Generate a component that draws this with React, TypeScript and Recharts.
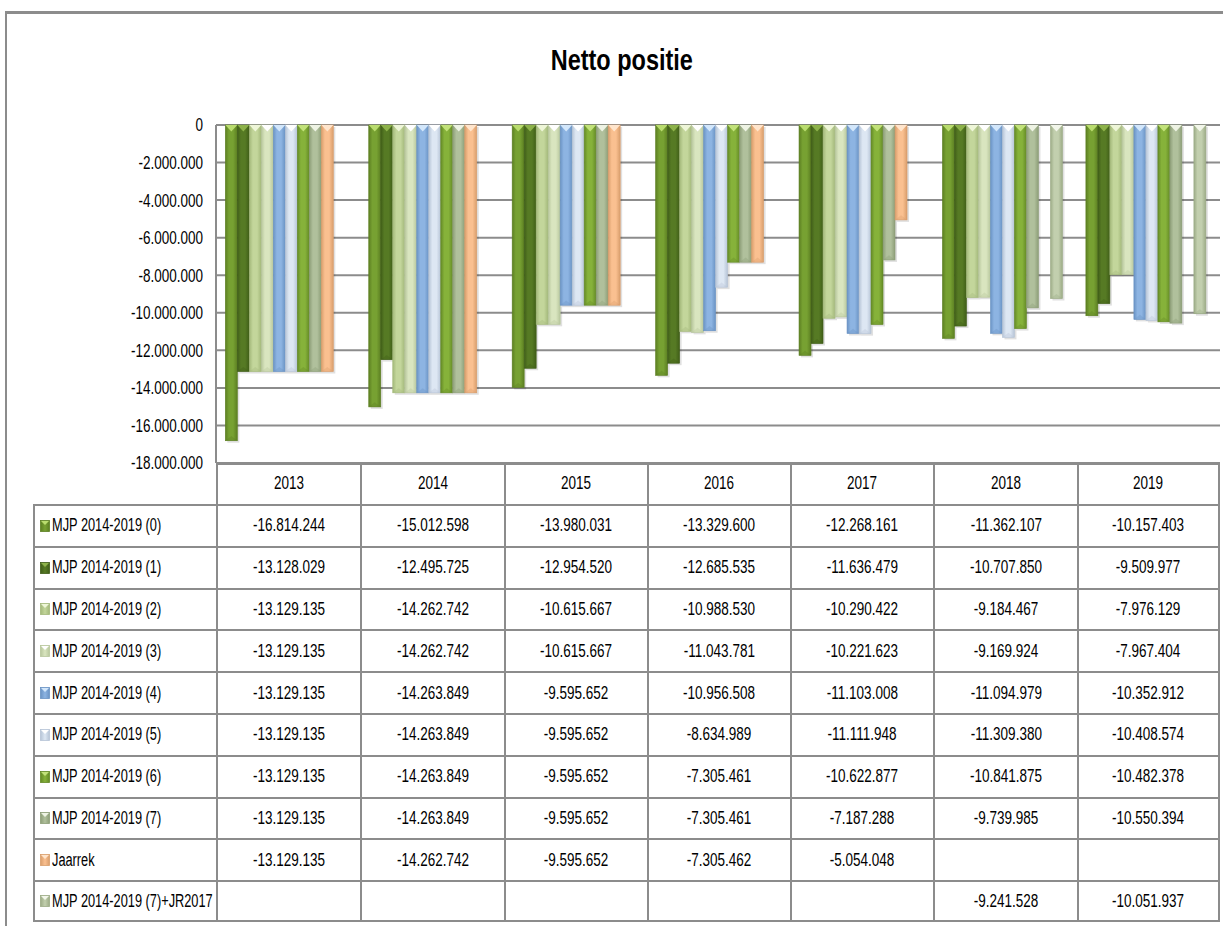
import React from "react"
import { BarChart, Bar, YAxis, XAxis, CartesianGrid } from "recharts"

const categories = ["2013", "2014", "2015", "2016", "2017", "2018", "2019"]

const mjp0 = [-16814244, -15012598, -13980031, -13329600, -12268161, -11362107, -10157403]
const mjp1 = [-13128029, -12495725, -12954520, -12685535, -11636479, -10707850, -9509977]
const mjp2 = [-13129135, -14262742, -10615667, -10988530, -10290422, -9184467, -7976129]
const mjp3 = [-13129135, -14262742, -10615667, -11043781, -10221623, -9169924, -7967404]
const mjp4 = [-13129135, -14263849, -9595652, -10956508, -11103008, -11094979, -10352912]
const mjp5 = [-13129135, -14263849, -9595652, -8634989, -11111948, -11309380, -10408574]
const mjp6 = [-13129135, -14263849, -9595652, -7305461, -10622877, -10841875, -10482378]
const mjp7 = [-13129135, -14263849, -9595652, -7305461, -7187288, -9739985, -10550394]
const jaarrek = [-13129135, -14262742, -9595652, -7305462, -5054048, null, null]
const mjp7jr = [null, null, null, null, null, -9241528, -10051937]

const seriesNames = [
  "MJP 2014-2019 (0)",
  "MJP 2014-2019 (1)",
  "MJP 2014-2019 (2)",
  "MJP 2014-2019 (3)",
  "MJP 2014-2019 (4)",
  "MJP 2014-2019 (5)",
  "MJP 2014-2019 (6)",
  "MJP 2014-2019 (7)",
  "Jaarrek",
  "MJP 2014-2019 (7)+JR2017",
]
const seriesValues = [mjp0, mjp1, mjp2, mjp3, mjp4, mjp5, mjp6, mjp7, jaarrek, mjp7jr]

const yTicks = [0, -2000000, -4000000, -6000000, -8000000, -10000000, -12000000, -14000000, -16000000, -18000000]

// base / highlight / edge colours per series
const palette = [
  { base: "#77A132", light: "#B9DC6E", dark: "#5C7F22" },
  { base: "#567A24", light: "#8DB24A", dark: "#405E18" },
  { base: "#C3D69B", light: "#EEF6D8", dark: "#A3B87A" },
  { base: "#D9E5BF", light: "#FFFFFF", dark: "#B7C69C" },
  { base: "#8DB4E2", light: "#D3E7FB", dark: "#6A93C4" },
  { base: "#DDE7F3", light: "#FFFFFF", dark: "#B6C4D6" },
  { base: "#86B23A", light: "#C2E27A", dark: "#648A26" },
  { base: "#B0C09C", light: "#EEF3E4", dark: "#8D9E78" },
  { base: "#FAC090", light: "#FFE5CC", dark: "#D99E6C" },
  { base: "#C2CFAE", light: "#F2F6EA", dark: "#9CAB86" },
]

// the original uses a very narrow face, so a regular sans is squeezed horizontally
const FONT = '"Liberation Sans", Arial, sans-serif'
const SQUEEZE = 0.75
const GRID = "#8c8c8c"

const data = categories.map((year, i) => {
  const row: Record<string, any> = { year }
  seriesValues.forEach((vals, s) => {
    row["s" + s] = vals[i]
  })
  return row
})

function fmt(v: number | null) {
  if (v === null || v === undefined) return ""
  const neg = v < 0
  const digits = Math.abs(Math.round(v)).toString()
  const withDots = digits.replace(/\B(?=(\d{3})+(?!\d))/g, ".")
  return (neg ? "-" : "") + withDots
}

function Narrow({ children, origin = "center", k = SQUEEZE }: { children: React.ReactNode; origin?: string; k?: number }) {
  return (
    <span style={{ display: "inline-block", transform: `scaleX(${k})`, transformOrigin: origin, whiteSpace: "nowrap" }}>
      {children}
    </span>
  )
}

function YTick(props: any) {
  const { x, y, payload } = props
  return (
    <text
      transform={`translate(${x},${y}) scale(${SQUEEZE},1)`}
      textAnchor="end"
      dy="0.36em"
      fontSize={18}
      fontFamily={FONT}
      fill="#000"
    >
      {fmt(payload.value)}
    </text>
  )
}

function BevelBar(props: any) {
  const { x, y, width, height, s } = props
  if (!height || !width) return null
  const top = height < 0 ? y + height : y
  const h = Math.abs(height)
  const c = palette[s]
  const tri = Math.min(width * 0.55, h)
  return (
    <g>
      <rect x={x + 2} y={top + 2} width={width} height={h} fill="rgba(0,0,0,0.12)" />
      <rect x={x} y={top} width={width} height={h} fill={`url(#grad${s})`} stroke={c.dark} strokeWidth={0.6} />
      <polygon points={`${x},${top} ${x + width},${top} ${x + width / 2},${top + tri}`} fill={c.light} />
      <polygon
        points={`${x},${top + h} ${x + width},${top + h} ${x + width / 2},${top + h - tri * 0.7}`}
        fill={c.dark}
        opacity={0.35}
      />
    </g>
  )
}

export default function App() {
  const colX = [216, 360, 504, 647, 790, 933, 1077, 1220]
  const rowH = 41.8
  const tableTop = 463
  const bodyTop = 504

  const cellBase: React.CSSProperties = {
    position: "absolute",
    boxSizing: "border-box",
    display: "flex",
    alignItems: "center",
    fontSize: 18,
  }

  return (
    <div style={{ position: "relative", width: 1223, height: 926, background: "#fff", fontFamily: FONT, overflow: "hidden" }}>
      <style>{`body{margin:0}`}</style>
      {/* outer frame */}
      <div
        style={{
          position: "absolute",
          left: 5,
          top: 11,
          width: 1230,
          height: 930,
          borderTop: `3px solid ${GRID}`,
          borderLeft: `2px solid ${GRID}`,
        }}
      />
      <div
        style={{
          position: "absolute",
          top: 44,
          left: 0,
          width: 1243,
          textAlign: "center",
          fontSize: 29,
          fontWeight: "bold",
        }}
      >
        <span style={{ display: "inline-block", transform: "scaleX(0.81)" }}>Netto positie</span>
      </div>

      <div style={{ position: "absolute", left: 0, top: 0 }}>
        <BarChart
          width={1223}
          height={485}
          data={data}
          margin={{ top: 125, right: 3, bottom: 22, left: 0 }}
          barCategoryGap="6.5%"
          barGap={0}
        >
          <defs>
            {palette.map((c, s) => (
              <linearGradient key={s} id={`grad${s}`} x1="0" y1="0" x2="1" y2="0">
                <stop offset="0%" stopColor={c.dark} />
                <stop offset="30%" stopColor={c.base} />
                <stop offset="65%" stopColor={c.base} />
                <stop offset="100%" stopColor={c.dark} />
              </linearGradient>
            ))}
          </defs>
          <CartesianGrid vertical={false} stroke={GRID} strokeWidth={2} />
          <XAxis dataKey="year" hide />
          <YAxis
            domain={[-18000000, 0]}
            ticks={yTicks}
            interval={0}
            width={216}
            tickLine={false}
            tickMargin={7}
            axisLine={{ stroke: GRID, strokeWidth: 2 }}
            tick={<YTick />}
          />
          {seriesNames.map((name, s) => (
            <Bar
              key={s}
              dataKey={"s" + s}
              name={name}
              fill={palette[s].base}
              isAnimationActive={false}
              shape={(p: any) => <BevelBar {...p} s={s} />}
            />
          ))}
        </BarChart>
      </div>

      {/* data table */}
      <div style={{ position: "absolute", left: 216, top: tableTop, width: 1004, height: 0, borderTop: `2px solid ${GRID}` }} />
      {categories.map((year, i) => (
        <div
          key={year}
          style={{
            ...cellBase,
            left: colX[i],
            top: tableTop,
            width: colX[i + 1] - colX[i],
            height: bodyTop - tableTop,
            borderLeft: `2px solid ${GRID}`,
            borderRight: i === categories.length - 1 ? `2px solid ${GRID}` : undefined,
            justifyContent: "center",
          }}
        >
          <Narrow>{year}</Narrow>
        </div>
      ))}
      {seriesNames.map((name, s) => (
        <React.Fragment key={name}>
          <div
            style={{
              ...cellBase,
              left: 33,
              top: bodyTop + s * rowH,
              width: colX[0] - 33,
              height: rowH,
              borderLeft: `2px solid ${GRID}`,
              borderTop: `2px solid ${GRID}`,
              borderBottom: s === seriesNames.length - 1 ? `2px solid ${GRID}` : undefined,
              paddingLeft: 5,
              whiteSpace: "nowrap",
            }}
          >
            <svg width={10} height={12} style={{ marginRight: 2, flex: "none" }}>
              <defs>
                <linearGradient id={`key${s}`} x1="0" y1="0" x2="1" y2="0">
                  <stop offset="0%" stopColor={palette[s].dark} />
                  <stop offset="50%" stopColor={palette[s].base} />
                  <stop offset="100%" stopColor={palette[s].dark} />
                </linearGradient>
              </defs>
              <rect x={0.5} y={0.5} width={9} height={11} fill={`url(#key${s})`} stroke={palette[s].dark} strokeWidth={0.8} />
              <polygon points="1,1 9,1 5,5" fill={palette[s].light} />
            </svg>
            <Narrow origin="left" k={0.71}>{name}</Narrow>
          </div>
          {categories.map((year, i) => (
            <div
              key={year}
              style={{
                ...cellBase,
                left: colX[i],
                top: bodyTop + s * rowH,
                width: colX[i + 1] - colX[i],
                height: rowH,
                borderLeft: `2px solid ${GRID}`,
                borderTop: `2px solid ${GRID}`,
                borderRight: i === categories.length - 1 ? `2px solid ${GRID}` : undefined,
                borderBottom: s === seriesNames.length - 1 ? `2px solid ${GRID}` : undefined,
                justifyContent: "center",
              }}
            >
              <Narrow>{fmt(seriesValues[s][i])}</Narrow>
            </div>
          ))}
        </React.Fragment>
      ))}
    </div>
  )
}
